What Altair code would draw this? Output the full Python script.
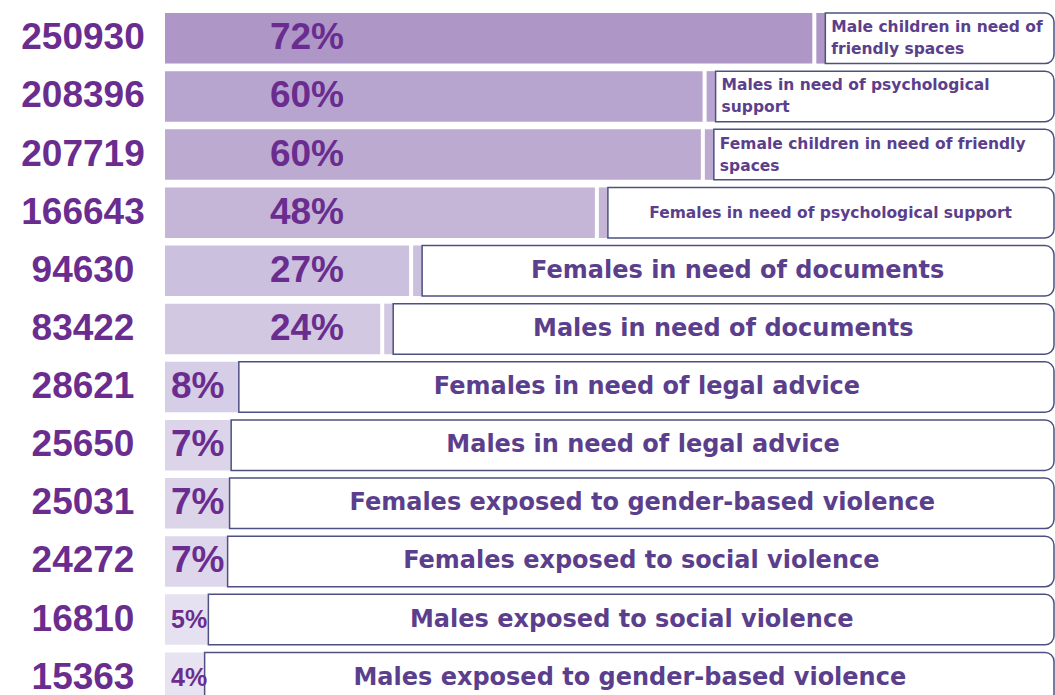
import altair as alt
import pandas as pd

categories = [
    "Male children in need of friendly spaces",
    "Males in need of psychological support",
    "Female children in need of friendly spaces",
    "Females in need of psychological support",
    "Females in need of documents",
    "Males in need of documents",
    "Females in need of legal advice",
    "Males in need of legal advice",
    "Females exposed to gender-based violence",
    "Females exposed to social violence",
    "Males exposed to social violence",
    "Males exposed to gender-based violence",
]
labels = [
    "Male children in need of\nfriendly spaces",
    "Males in need of psychological\nsupport",
    "Female children in need of friendly\nspaces",
    "Females in need of psychological support",
    "Females in need of documents",
    "Males in need of documents",
    "Females in need of legal advice",
    "Males in need of legal advice",
    "Females exposed to gender-based violence",
    "Females exposed to social violence",
    "Males exposed to social violence",
    "Males exposed to gender-based violence",
]
counts = [250930, 208396, 207719, 166643, 94630, 83422, 28621, 25650, 25031, 24272, 16810, 15363]
percents = [72, 60, 60, 48, 27, 24, 8, 7, 7, 7, 5, 4]
bar_colors = ["#ae96c6", "#b8a5cf", "#bcaad1", "#c5b6d8", "#cbc0de", "#d2c8e2",
              "#d6cde6", "#dcd5ea", "#dcd5ea", "#ded7eb", "#e6e1f0", "#e8e3f1"]

X_MAX = 345000
PURPLE = "#6a2d8f"
LABEL = "#5c3f8c"
BORDER = "#4d5080"
LFONT = "DejaVu Sans"

df = pd.DataFrame({
    "category": categories,
    "label": labels,
    "count": counts,
    "count_txt": [str(c) for c in counts],
    "pct": percents,
    "pct_txt": [f"{p}%" for p in percents],
})

x_scale = alt.Scale(domain=[0, X_MAX], nice=False, zero=True)
y = alt.Y("category:N", sort=categories, axis=None,
          scale=alt.Scale(paddingInner=0.13, paddingOuter=0))
color = alt.Color("category:N", scale=alt.Scale(domain=categories, range=bar_colors), legend=None)
xq = alt.X("count:Q", scale=x_scale, axis=None)

base = alt.Chart(df)
big = base.transform_filter("datum.count > 50000")
small = base.transform_filter("datum.count <= 50000")

bars = base.mark_bar().encode(x=xq, y=y, color=color)
strips = big.mark_bar(xOffset=4, x2Offset=13).encode(x=xq, x2="count:Q", y=y, color=color)

box_style = dict(fill="white", stroke=BORDER, strokeWidth=1.5,
                 cornerRadiusTopRight=9, cornerRadiusBottomRight=9)
box_big = big.mark_bar(xOffset=13, x2Offset=-1, **box_style).encode(
    x=xq, x2=alt.datum(X_MAX), y=y)
box_small = small.mark_bar(x2Offset=-1, **box_style).encode(
    x=xq, x2=alt.datum(X_MAX), y=y)

numbers = base.mark_text(align="center", baseline="middle", fontSize=37,
                         fontWeight="bold", font="Liberation Sans", color=PURPLE).encode(
    x=alt.value(-82), y=y, text="count_txt:N")

pct_big = big.mark_text(align="center", baseline="middle", fontSize=37,
                        fontWeight="bold", font="Liberation Sans", color=PURPLE).encode(
    x=alt.value(142), y=y, text="pct_txt:N")
pct_small = small.mark_text(align="left", baseline="middle",
                            fontWeight="bold", font="Liberation Sans", color=PURPLE).encode(
    x=alt.value(6), y=y, text="pct_txt:N",
    size=alt.condition("datum.pct >= 7", alt.value(37), alt.value(25)))

lab_top = base.transform_filter("datum.pct >= 60").mark_text(
    align="left", baseline="middle", dx=19, dy=-11, lineBreak="\n", fontSize=15.5, lineHeight=22,
    font=LFONT, fontWeight="bold", color=LABEL).encode(
    x=xq, y=y, text="label:N")

lab_rest = base.transform_filter("datum.pct < 60").transform_calculate(
    mid=f"(datum.count + {X_MAX}) / 2 + (datum.count > 50000 ? 2200 : 0)").mark_text(
    align="center", baseline="middle", font=LFONT, fontWeight="bold", color=LABEL).encode(
    x=alt.X("mid:Q", scale=x_scale, axis=None), y=y, text="label:N",
    size=alt.condition("datum.count > 100000", alt.value(15.5), alt.value(24)))

chart = alt.layer(bars, strips, box_big, box_small, numbers, pct_big, pct_small,
                  lab_top, lab_rest).properties(
    width=890, height=690,
    autosize=alt.AutoSizeParams(type="none"),
    padding={"left": 165, "top": 13, "right": 0, "bottom": -8},
    background="white",
).configure_view(stroke=None)

chart.save("out.html", embed_options={"renderer": "svg", "actions": False})
